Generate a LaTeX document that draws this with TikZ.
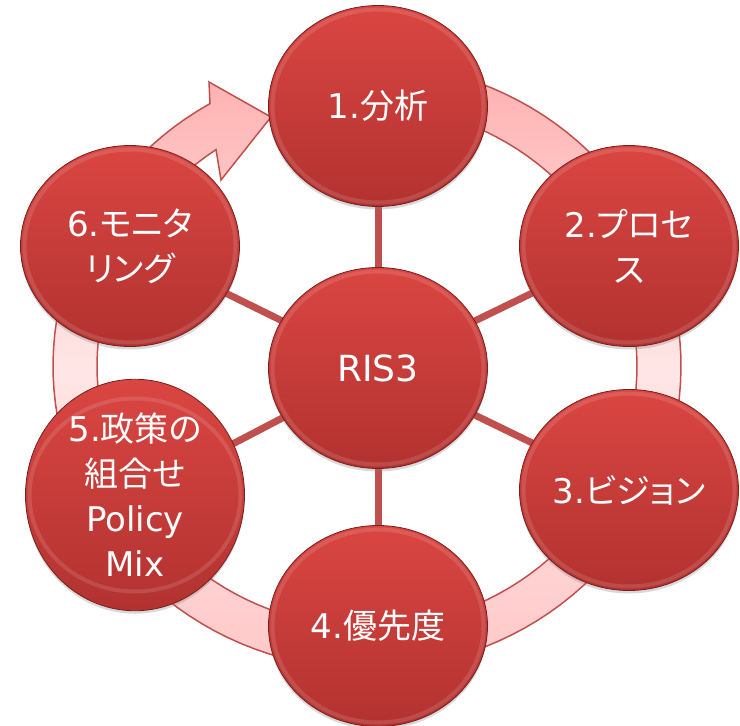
\documentclass[tikz,border=0pt]{standalone}
\usepackage{fontspec}
\setmainfont{DejaVu Sans}
\newfontfamily\jp[RawFeature=+palt]{Noto Sans CJK JP}
\usetikzlibrary{shapes.geometric,shadows,backgrounds}
\definecolor{ballTop}{RGB}{218,70,66}
\definecolor{ballBot}{RGB}{178,50,48}
\definecolor{ballEdge}{RGB}{120,32,30}
\definecolor{linkRed}{RGB}{192,80,77}
\definecolor{ringTop}{RGB}{255,176,176}
\definecolor{ringMid}{RGB}{255,230,230}
\definecolor{ringBot}{RGB}{255,200,200}
\definecolor{ringEdge}{RGB}{192,80,77}
\begin{document}
\begin{tikzpicture}[x=1pt,y=-1pt,
 ball/.style={ellipse, minimum width=219pt, minimum height=201pt, inner sep=0pt,
   top color=ballTop, bottom color=ballBot, draw=ballEdge, line width=0.8pt,
   drop shadow={shadow xshift=0pt,shadow yshift=-3pt,opacity=0.3},
   path picture={\draw[white, opacity=0.12, line width=4pt]
     (path picture bounding box.center) ellipse [x radius=105.5pt, y radius=96.5pt];},
   text=white, align=center, font=\fontsize{34}{45}\selectfont},
 link/.style={draw=linkRed, line width=7pt},
 ring/.style={draw=ringEdge, line width=1.5pt, top color=ringTop, bottom color=ringBot, middle color=ringMid}]
\useasboundingbox (0,0) rectangle (740,726);
\node[ball] (c) at (378,368) {\fontsize{36}{45}\selectfont RIS3};
\node[ball] (n1) at (378,106) {1.{\jp 分析}};
\node[ball] (n2) at (629,246) {2.{\jp プロセ}\\{\jp ス}};
\node[ball] (n3) at (629,490) {3.{\jp ビジョン}};
\node[ball] (n4) at (378,626) {4.{\jp 優先度}};
\node[ball] (n5) at (135,495) {5.{\jp 政策の}\\{\jp 組合せ}\\Policy\\Mix};
\node[ball] (n6) at (130,246) {6.{\jp モニタ}\\{\jp リング}};
\begin{scope}[on background layer]
\path[ring] plot[domain=280:600, samples=120, variable=\t] ({367+314*cos(\t)},{366+303*sin(\t)})
  -- (209,82) -- (271,117) -- (221,180)
  -- plot[domain=596:280, samples=120, variable=\t] ({367+270*cos(\t)},{366+261*sin(\t)}) -- cycle;
\foreach \n in {n1,n2,n3,n4,n5,n6}{\draw[link] (c.center) -- (\n.center);}
\end{scope}
\end{tikzpicture}
\end{document}
